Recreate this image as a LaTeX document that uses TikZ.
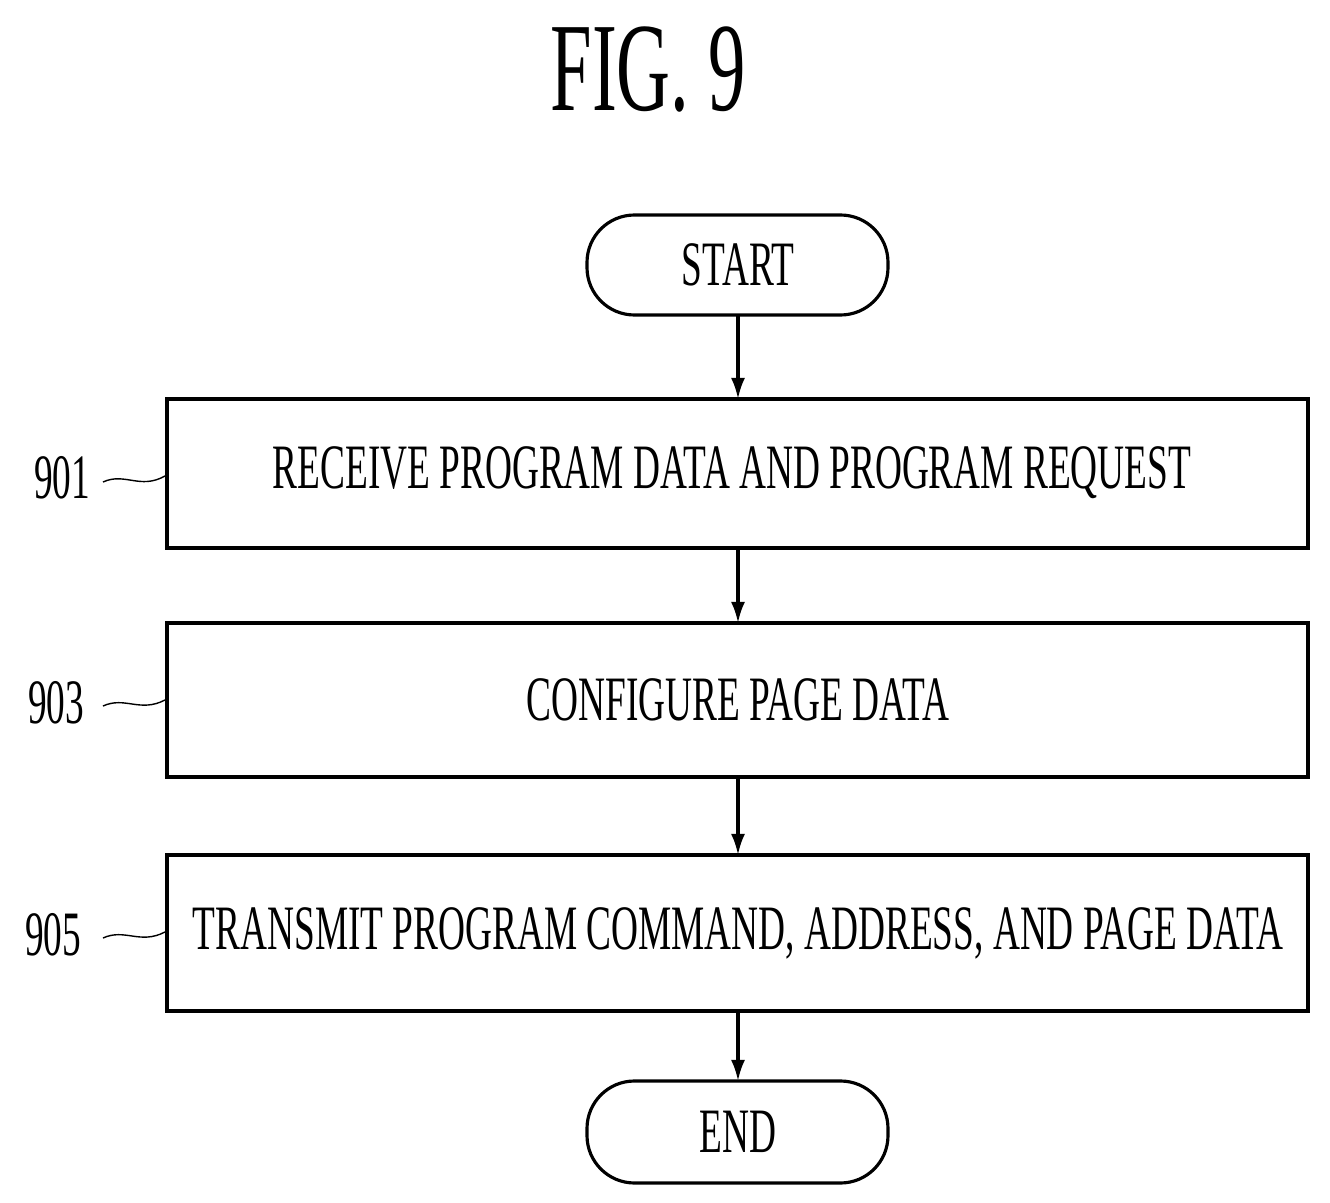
\documentclass[tikz,border=0pt]{standalone}
\usepackage{fontspec}
\usetikzlibrary{arrows.meta}
\setmainfont{Liberation Serif}[FakeStretch=0.59]
\begin{document}
\begin{tikzpicture}[x=0.02cm,y=-0.02cm,
  box/.style={draw,line width=1.8pt,inner sep=0pt},
  term/.style={draw,line width=1.8pt,rounded corners=0.95cm,inner sep=0pt},
  txt/.style={font=\fontsize{36}{40}\selectfont},
  lbl/.style={font=\fontsize{36}{40}\selectfont},
  arr/.style={-{Latex[length=12pt,width=8pt]},line width=1.8pt},
  sq/.style={line width=0.8pt}]
\useasboundingbox (0,0) rectangle (1330,1203);
\node[font=\fontsize{72}{76}\selectfont] (title) at (648,70) {FIG. 9};
\draw[term] (587,215) rectangle (888,315);
\node[txt] (start) at (738,265) {START};
\coordinate (startb) at (738,315);
\draw[box] (167,399) rectangle (1308,548);
\node[txt] (b1) at (732,473) {RECEIVE PROGRAM DATA AND PROGRAM REQUEST};
\coordinate (b1t) at (738,399); \coordinate (b1b) at (738,548);
\draw[box] (167,623) rectangle (1308,777);
\node[txt] (b2) at (738,700) {CONFIGURE PAGE DATA};
\coordinate (b2t) at (738,623); \coordinate (b2b) at (738,777);
\draw[box] (167,855) rectangle (1308,1011);
\node[txt] (b3) at (738,933) {TRANSMIT PROGRAM COMMAND, ADDRESS, AND PAGE DATA};
\coordinate (b3t) at (738,855); \coordinate (b3b) at (738,1011);
\draw[term] (587,1081) rectangle (888,1183);
\node[txt] (end) at (738,1132) {END};
\coordinate (endt) at (738,1081);
\draw[arr] (startb) -- (b1t);
\draw[arr] (b1b) -- (b2t);
\draw[arr] (b2b) -- (b3t);
\draw[arr] (b3b) -- (endt);
\node[lbl] (l1) at (62,478) {901};
\node[lbl] (l2) at (56,703) {903};
\node[lbl] (l3) at (53,935) {905};
\draw[sq] (103,482) .. controls (125,472) and (140,490) .. (165,476);
\draw[sq] (103,706) .. controls (125,696) and (140,713) .. (165,700);
\draw[sq] (103,938) .. controls (125,928) and (140,945) .. (165,932);
\end{tikzpicture}
\end{document}
